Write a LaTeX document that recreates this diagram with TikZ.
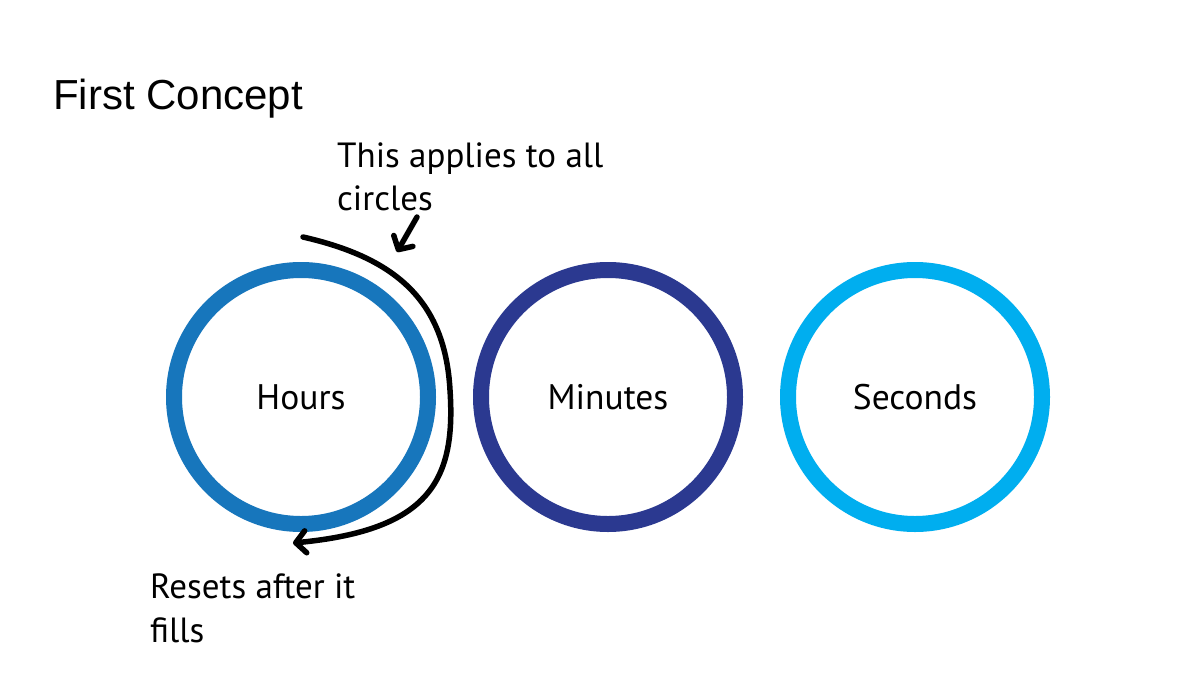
\documentclass[tikz,border=0pt]{standalone}
\usepackage{fontspec}
\setmainfont{PT Sans}
\newfontfamily\titlefont{Liberation Sans}
\usetikzlibrary{arrows.meta}
\definecolor{hourblue}{RGB}{23,118,188}
\definecolor{minuteblue}{RGB}{43,57,144}
\definecolor{secondblue}{RGB}{0,174,239}
\begin{document}
\begin{tikzpicture}[x=1pt,y=-1pt,
  ring/.style={circle,line width=16pt,minimum size=254pt,inner sep=0pt,
    font=\fontsize{35.5}{38}\selectfont},
  note/.style={anchor=base west,inner sep=0pt,font=\fontsize{35}{38}\selectfont},
  pen/.style={line width=5.5pt,line cap=round,
    -{Straight Barb[length=10pt,width=22pt,line cap=round,line join=round]}}]
\useasboundingbox (0,0) rectangle (1200,675);
\fill[white] (0,0) rectangle (1200,675);

\node[anchor=base west,inner sep=0pt,font=\titlefont\fontsize{42}{46}\selectfont]
  (title) at (53,109) {First Concept};

\node[ring,draw=hourblue]   (hours)   at (301,397) {Hours};
\node[ring,draw=minuteblue] (minutes) at (608,397) {Minutes};
\node[ring,draw=secondblue] (seconds) at (915,397) {Seconds};

\node[note] (applies) at (337,167) {This applies to all};
\node[note] (circles) at (337,210) {circles};
\node[note] (resets)  at (150,598) {Resets after it};
\node[note] (fills)   at (150,642) {fills};

\coordinate (arcstart) at (303,237);
\coordinate (arcend)   at (293,543);
\coordinate (tailA)    at (417,217);
\coordinate (tipA)     at (397,252);

\draw[pen] (arcstart) .. controls (395,258) and (445,300) .. (450,390)
  .. controls (456,480) and (430,530) .. (arcend);
\draw[pen] (tailA) -- (tipA);
\end{tikzpicture}
\end{document}
